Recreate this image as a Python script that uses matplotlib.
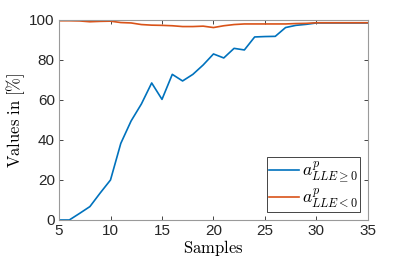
import numpy as np
import matplotlib
matplotlib.use("Agg")
import matplotlib.pyplot as plt

plt.rcParams['mathtext.fontset'] = 'cm'
plt.rcParams['font.family'] = ['Liberation Sans', 'DejaVu Sans']

samples = np.arange(5, 36)
a_pos = [0, 0, 3.3, 6.7, 13.5, 20, 38.3, 49.5, 58, 68.5, 60.3, 72.8, 69.5, 72.8,
         77.5, 83, 81, 85.8, 85, 91.5, 91.7, 91.8, 96.2, 97.3, 97.8, 98.5,
         98.5, 98.5, 98.5, 98.5, 98.5]
a_neg = [99.6, 99.6, 99.5, 99.1, 99.3, 99.4, 98.7, 98.5, 97.7, 97.4, 97.3, 97.1,
         96.7, 96.7, 96.9, 96.2, 97.1, 97.7, 98.0, 98.0, 98.0, 98.0, 98.0, 98.2,
         98.3, 98.6, 98.6, 98.6, 98.6, 98.6, 98.6]

fig = plt.figure(figsize=(4.07, 2.66), dpi=100)
ax = fig.add_axes([0.145, 0.173, 0.759, 0.752])

ax.plot(samples, a_pos, color='#0072BD', lw=1.2, label=r'$a^{p}_{LLE\geq 0}$')
ax.plot(samples, a_neg, color='#D95319', lw=1.2, label=r'$a^{p}_{LLE<0}$')

ax.set_xlim(5, 35)
ax.set_ylim(0, 100)
ax.set_xticks(range(5, 36, 5))
ax.set_yticks(range(0, 101, 20))
ax.tick_params(direction='in', top=True, right=True, length=3, width=0.6,
               colors='#262626', labelsize=11, pad=3)
for s in ax.spines.values():
    s.set_color('#9a9a9a')
    s.set_linewidth(0.8)

ax.set_xlabel(r'$\mathrm{Samples}$', fontsize=12, labelpad=0)
ax.set_ylabel(r'$\mathrm{Values\ in\ [\%]}$', fontsize=12, labelpad=2)

leg = ax.legend(loc='lower right', fontsize=12.5, handlelength=1.7,
                handletextpad=0.15, borderpad=0.15, labelspacing=0.05,
                fancybox=False, framealpha=1, borderaxespad=0.45)
leg.get_frame().set_edgecolor('#262626')
leg.get_frame().set_linewidth(0.6)

fig.savefig('out.png', dpi=100)
